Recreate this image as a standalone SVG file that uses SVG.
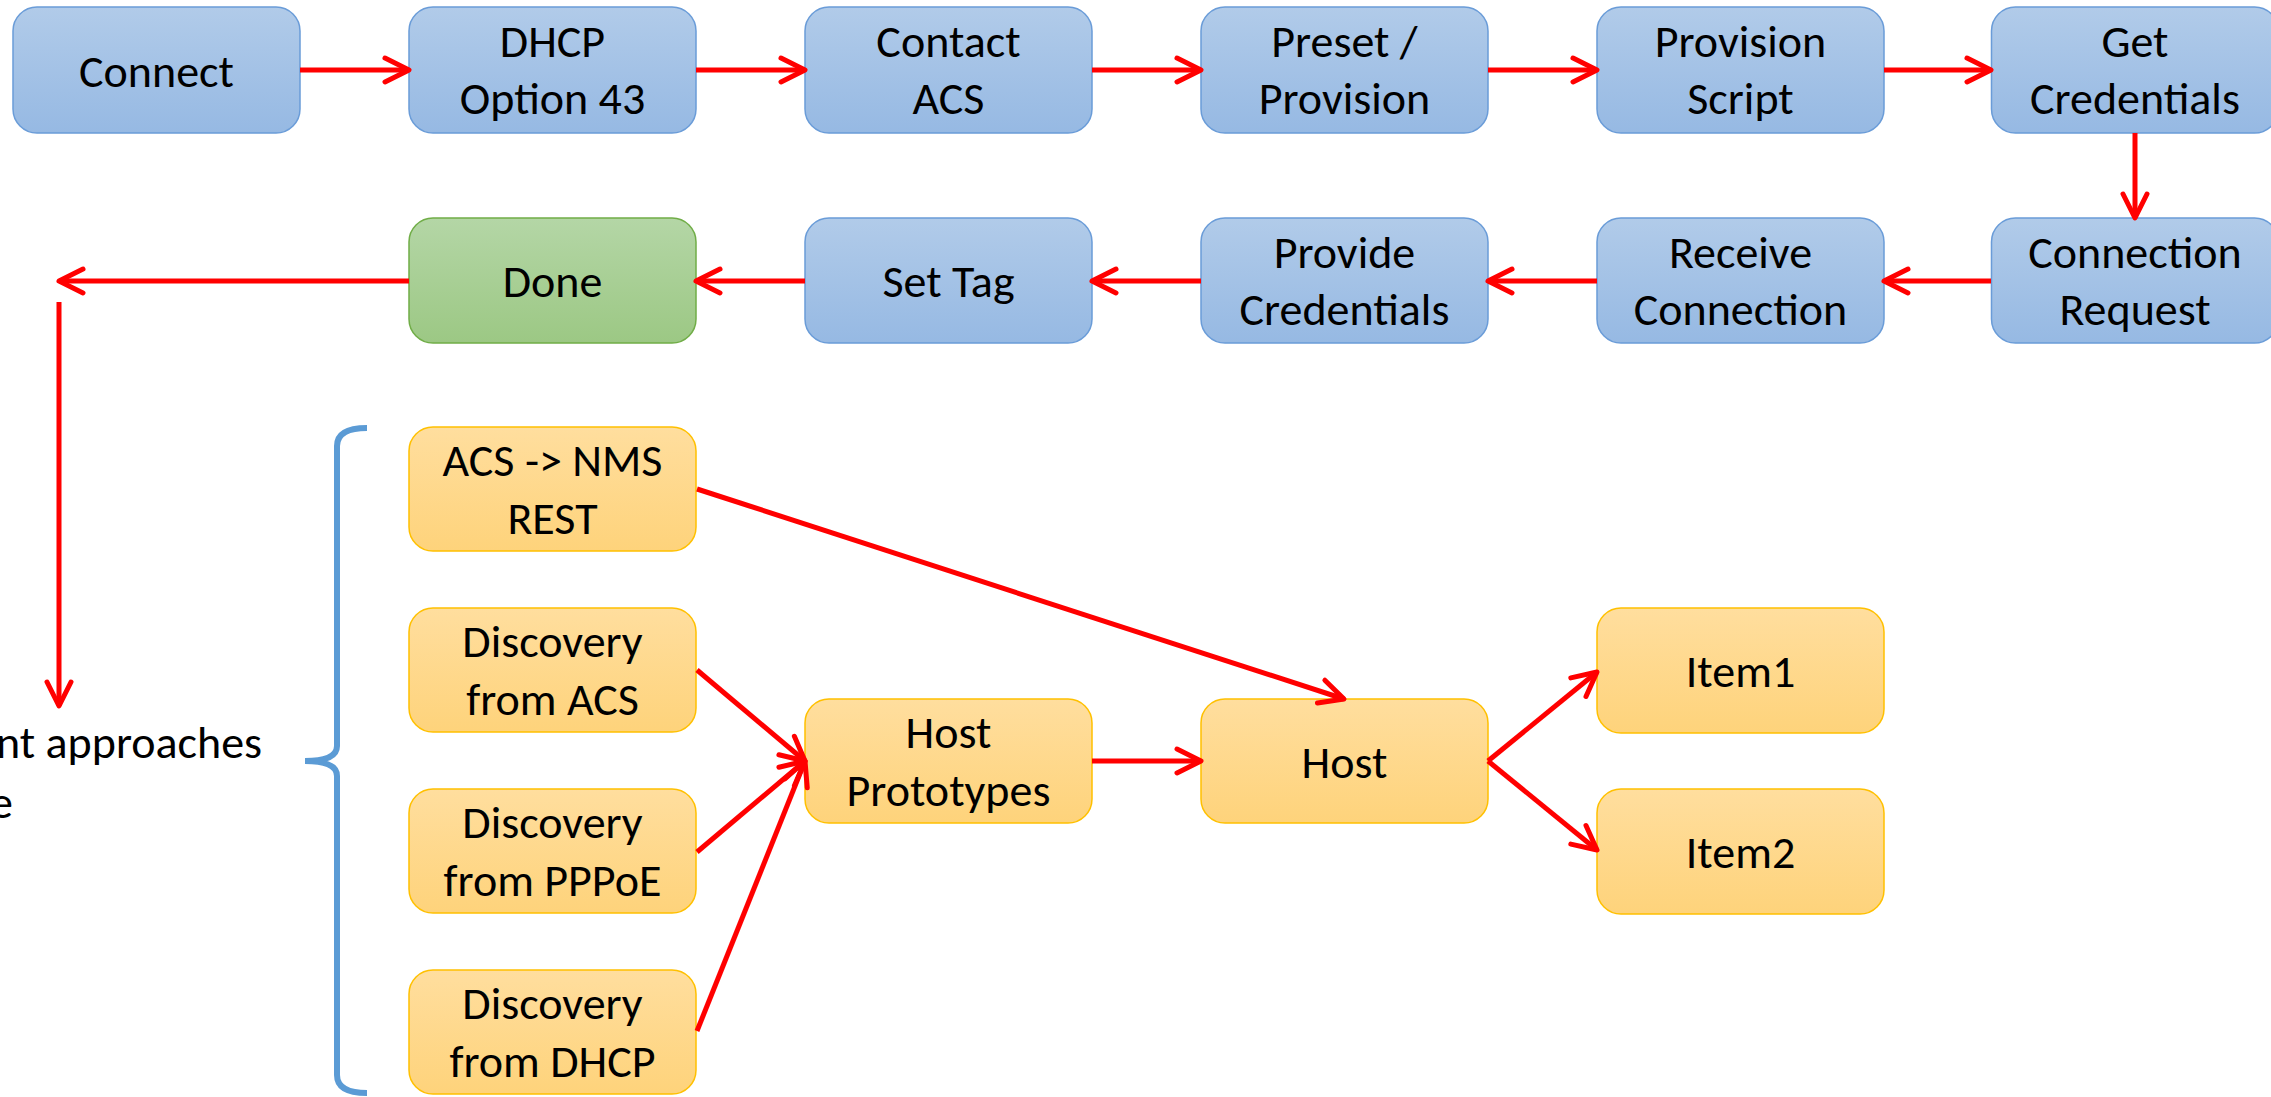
<svg xmlns="http://www.w3.org/2000/svg" width="2271" height="1097" viewBox="0 0 2271 1097">
<defs>
<linearGradient id="gBlue" x1="0" y1="0" x2="0" y2="1"><stop offset="0" stop-color="#B1CBE9"/><stop offset="1" stop-color="#96B9E3"/></linearGradient>
<linearGradient id="gGreen" x1="0" y1="0" x2="0" y2="1"><stop offset="0" stop-color="#B4D6A6"/><stop offset="1" stop-color="#9CC884"/></linearGradient>
<linearGradient id="gOrange" x1="0" y1="0" x2="0" y2="1"><stop offset="0" stop-color="#FFDE9E"/><stop offset="1" stop-color="#FED37B"/></linearGradient>
<marker id="arr" markerUnits="userSpaceOnUse" viewBox="-30 -16 34 32" markerWidth="34" markerHeight="32" refX="0" refY="0" orient="auto" overflow="visible">
<path d="M -24 -12 L 0 0 L -24 12" fill="none" stroke="#FF0000" stroke-width="5" stroke-linecap="round" stroke-linejoin="round"/>
</marker>
<style>
.blue{fill:url(#gBlue);stroke:#6A9CD8;stroke-width:1.5}
.green{fill:url(#gGreen);stroke:#70AD47;stroke-width:1.5}
.orange{fill:url(#gOrange);stroke:#FFC000;stroke-width:1.5}
text{font-family:Carlito,Lato,"Liberation Sans",sans-serif;font-size:46px;fill:#000;text-anchor:middle}
.conn line,.conn path.c{stroke:#FF0000;stroke-width:5;fill:none}
.brace{fill:none;stroke:#5B9BD5;stroke-width:6}
</style>
</defs>

<g id="node-connect"><rect class="blue" x="13" y="7" width="287" height="126" rx="24"/><text x="156.5" y="87">Connect</text></g>
<g id="node-dhcp43"><rect class="blue" x="409" y="7" width="287" height="126" rx="24"/><text x="552.5" y="57">DHCP</text><text x="552.5" y="114">Option 43</text></g>
<g id="node-contact"><rect class="blue" x="805" y="7" width="287" height="126" rx="24"/><text x="948.5" y="57">Contact</text><text x="948.5" y="114">ACS</text></g>
<g id="node-preset"><rect class="blue" x="1201" y="7" width="287" height="126" rx="24"/><text x="1344.5" y="57">Preset /</text><text x="1344.5" y="114">Provision</text></g>
<g id="node-script"><rect class="blue" x="1597" y="7" width="287" height="126" rx="24"/><text x="1740.5" y="57">Provision</text><text x="1740.5" y="114">Script</text></g>
<g id="node-getcred"><rect class="blue" x="1991.5" y="7" width="287" height="126" rx="24"/><text x="2135" y="57">Get</text><text x="2135" y="114">Credentials</text></g>

<g id="node-connreq"><rect class="blue" x="1991.5" y="218" width="287" height="125" rx="24"/><text x="2135" y="268">Connection</text><text x="2135" y="325">Request</text></g>
<g id="node-receive"><rect class="blue" x="1597" y="218" width="287" height="125" rx="24"/><text x="1740.5" y="268">Receive</text><text x="1740.5" y="325">Connection</text></g>
<g id="node-provide"><rect class="blue" x="1201" y="218" width="287" height="125" rx="24"/><text x="1344.5" y="268">Provide</text><text x="1344.5" y="325">Credentials</text></g>
<g id="node-settag"><rect class="blue" x="805" y="218" width="287" height="125" rx="24"/><text x="948.5" y="297">Set Tag</text></g>
<g id="node-done"><rect class="green" x="409" y="218" width="287" height="125" rx="24"/><text x="552.5" y="297">Done</text></g>

<g id="node-acsnms"><rect class="orange" x="409" y="427" width="287" height="124" rx="24"/><text x="552.5" y="476">ACS -&gt; NMS</text><text x="552.5" y="534">REST</text></g>
<g id="node-discacs"><rect class="orange" x="409" y="608" width="287" height="124" rx="24"/><text x="552.5" y="657">Discovery</text><text x="552.5" y="715">from ACS</text></g>
<g id="node-discpppoe"><rect class="orange" x="409" y="789" width="287" height="124" rx="24"/><text x="552.5" y="838">Discovery</text><text x="552.5" y="896">from PPPoE</text></g>
<g id="node-discdhcp"><rect class="orange" x="409" y="970" width="287" height="124" rx="24"/><text x="552.5" y="1019">Discovery</text><text x="552.5" y="1077">from DHCP</text></g>
<g id="node-hostproto"><rect class="orange" x="805" y="699" width="287" height="124" rx="24"/><text x="948.5" y="748">Host</text><text x="948.5" y="806">Prototypes</text></g>
<g id="node-host"><rect class="orange" x="1201" y="699" width="287" height="124" rx="24"/><text x="1344.5" y="778">Host</text></g>
<g id="node-item1"><rect class="orange" x="1597" y="608" width="287" height="125" rx="24"/><text x="1740.5" y="687">Item1</text></g>
<g id="node-item2"><rect class="orange" x="1597" y="789" width="287" height="125" rx="24"/><text x="1740.5" y="868">Item2</text></g>

<g id="label-approaches">
<text x="-4" y="758" style="text-anchor:start">nt approaches</text>
<text x="-10" y="818" style="text-anchor:start">e</text>
</g>

<g id="brace"><path class="brace" d="M367,428 Q337,428 337,446 L337,746 Q337,761 305,761 Q337,761 337,776 L337,1075 Q337,1093 367,1093"/></g>

<g id="connectors" class="conn">
<line x1="300" y1="70" x2="409" y2="70" marker-end="url(#arr)"/>
<line x1="696" y1="70" x2="805" y2="70" marker-end="url(#arr)"/>
<line x1="1092" y1="70" x2="1201" y2="70" marker-end="url(#arr)"/>
<line x1="1488" y1="70" x2="1597" y2="70" marker-end="url(#arr)"/>
<line x1="1884" y1="70" x2="1991" y2="70" marker-end="url(#arr)"/>
<line x1="2135" y1="133" x2="2135" y2="218" marker-end="url(#arr)"/>
<line x1="1991" y1="281" x2="1884" y2="281" marker-end="url(#arr)"/>
<line x1="1597" y1="281" x2="1488" y2="281" marker-end="url(#arr)"/>
<line x1="1201" y1="281" x2="1092" y2="281" marker-end="url(#arr)"/>
<line x1="805" y1="281" x2="696" y2="281" marker-end="url(#arr)"/>
<line x1="409" y1="281" x2="59" y2="281" marker-end="url(#arr)"/>
<line x1="59" y1="302" x2="59" y2="706" marker-end="url(#arr)"/>
<line x1="697" y1="489" x2="1344" y2="699" marker-end="url(#arr)"/>
<line x1="697" y1="670" x2="805" y2="761" marker-end="url(#arr)"/>
<line x1="697" y1="852" x2="805" y2="761" marker-end="url(#arr)"/>
<line x1="697" y1="1031" x2="805" y2="761" marker-end="url(#arr)"/>
<line x1="1092" y1="761" x2="1201" y2="761" marker-end="url(#arr)"/>
<line x1="1488" y1="761" x2="1597" y2="672" marker-end="url(#arr)"/>
<line x1="1488" y1="761" x2="1597" y2="850" marker-end="url(#arr)"/>
</g>
</svg>
